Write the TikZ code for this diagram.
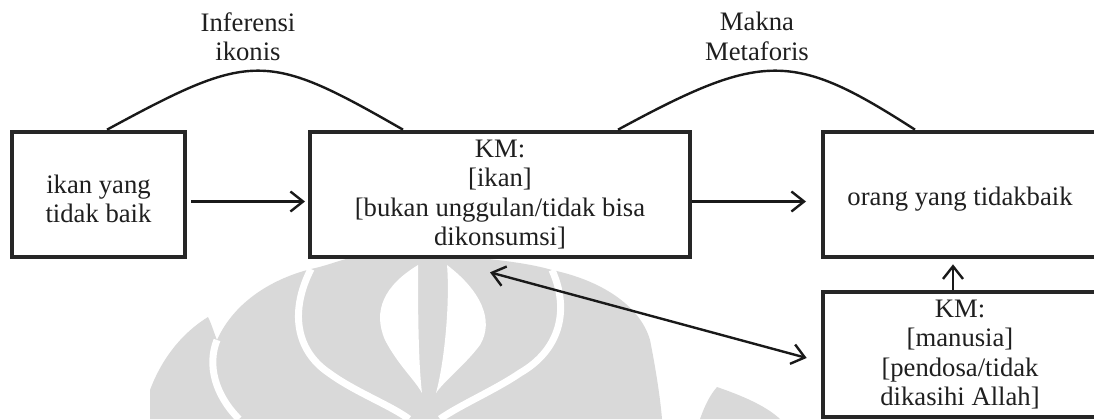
\documentclass[tikz,border=0pt]{standalone}
\usepackage{fontspec}
\setmainfont{Liberation Serif}
\usetikzlibrary{arrows.meta}
% invisible strut that lowers the first text line a little
\newcommand{\downstrut}{\rule{0pt}{20.1pt}}
\begin{document}
\begin{tikzpicture}[x=0.75pt,y=-0.75pt,
  txt/.style={font=\fontsize{20}{22}\selectfont, text=black!88},
  box/.style={txt, draw=black!85, line width=3.5pt, inner sep=0pt,
    minimum height=93.75pt, align=center},
  lbl/.style={txt, inner sep=0pt, anchor=north, align=center},
  link/.style={line width=1.8pt, draw=black!90},
  arr/.style={link, -{Straight Barb[length=9.5pt,width=15pt]}},
  dbl/.style={link, {Straight Barb[length=9.5pt,width=15pt]}-{Straight Barb[length=9.5pt,width=15pt]}},
  wm/.style={fill=black!15},
  wmgap/.style={draw=white, line width=5.25pt}]
\useasboundingbox (0,0) rectangle (1094,419);
\clip (0,0) rectangle (1094,419);

% faint emblem in the background
\begin{scope}
  \fill[wm] (150,419) -- (150,390) .. controls (165,350) and (190,328) .. (208,317)
    .. controls (212,325) and (214,333) .. (217,340)
    .. controls (235,300) and (275,278) .. (311,269)
    .. controls (325,266) and (335,262) .. (346,259)
    -- (489,259)
    .. controls (515,262) and (535,265) .. (552,270)
    .. controls (600,280) and (640,305) .. (650,340)
    .. controls (655,365) and (660,395) .. (662,419) -- cycle;
  \fill[wm] (700,419) .. controls (705,405) and (710,395) .. (717,387)
    .. controls (740,395) and (765,405) .. (780,419) -- cycle;
  \draw[wmgap] (217,340) .. controls (207,365) and (215,395) .. (239,419);
  \draw[wmgap] (311,269) .. controls (290,310) and (295,350) .. (329,373)
    .. controls (355,392) and (390,405) .. (409,419);
  \draw[wmgap] (552,270) .. controls (570,310) and (560,350) .. (520,373)
    .. controls (495,390) and (460,405) .. (440,419);
  \fill[white] (418,265) .. controls (385,285) and (372,310) .. (385,340)
    .. controls (398,365) and (415,380) .. (422,393)
    .. controls (418,360) and (418,300) .. (418,265) -- cycle;
  \fill[white] (447,265) .. controls (480,290) and (495,320) .. (480,345)
    .. controls (465,365) and (445,380) .. (436,393)
    .. controls (445,360) and (450,300) .. (447,265) -- cycle;
\end{scope}

% boxes
\node[box, minimum width=129.75pt] (src) at (98.5,194.5) {\downstrut ikan yang\\tidak baik};
\node[box, minimum width=285pt] (kmA) at (500,194.5)
  {KM:\\{[ikan]}\\{[bukan unggulan/tidak bisa}\\dikonsumsi]};
\node[box, minimum width=205.5pt] (tgt) at (960,194.5) {\downstrut orang yang tidakbaik};
\node[box, minimum width=205.5pt] (kmB) at (960,354.5)
  {KM:\\{[manusia]}\\{[pendosa/tidak}\\dikasihi Allah]};

% labels over the arcs
\node[lbl] (infer) at (248,12) {Inferensi\\ikonis};
\node[lbl] (makna) at (757,12) {Makna\\Metaforis};

% arcs
\draw[link] ([xshift=6.4pt]src.north) .. controls (252,51) and (266,51) .. ([xshift=-72.75pt]kmA.north);
\draw[link] ([xshift=88.5pt]kmA.north) .. controls (763,51) and (793,51) .. ([xshift=-33.75pt]tgt.north);

% arrows
\draw[arr, shorten <=3pt, shorten >=2pt] ([yshift=-5.25pt]src.east) -- ([yshift=-5.25pt]kmA.west);
\draw[arr, shorten >=11pt] ([yshift=-5.25pt]kmA.east) -- ([yshift=-5.25pt]tgt.west);
\draw[arr, shorten >=3.75pt] ([xshift=-5.25pt]kmB.north) -- ([xshift=-5.25pt]tgt.south);
\draw[dbl] ([xshift=-7.5pt,yshift=-9.75pt]kmA.south) -- ([xshift=-10.5pt,yshift=-2.6pt]kmB.west);
\end{tikzpicture}
\end{document}
